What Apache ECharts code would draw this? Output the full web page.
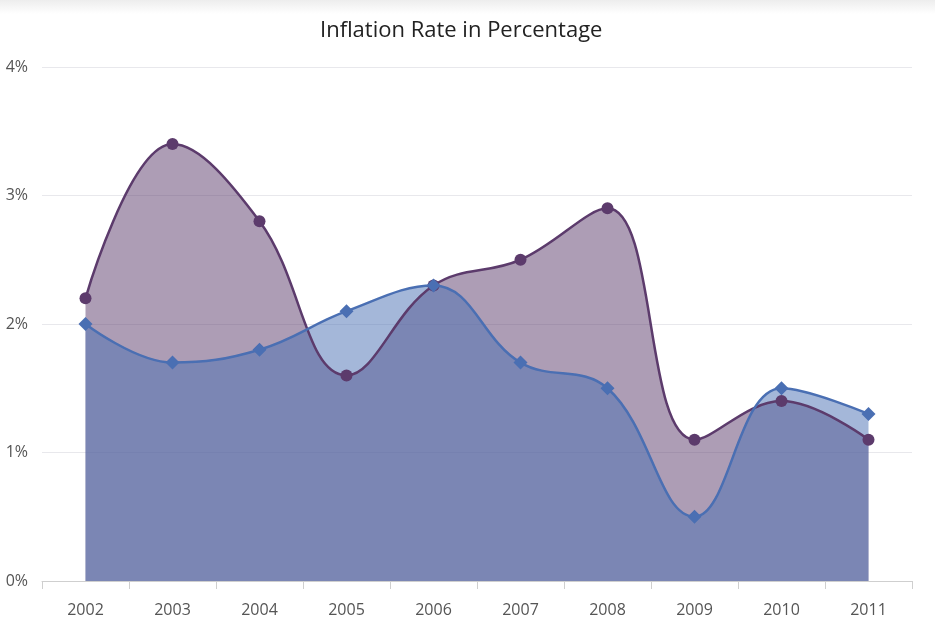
<!DOCTYPE html>
<html>
<head>
<meta charset="utf-8">
<script src="https://cdn.jsdelivr.net/npm/echarts@6/dist/echarts.min.js"></script>
<style>html,body{margin:0;padding:0;background:#fff;}#c{width:935px;height:625px;}</style>
</head>
<body>
<div id="c"></div>
<script>
const categories = ['2002','2003','2004','2005','2006','2007','2008','2009','2010','2011'];
const seriesA = [2.2, 3.4, 2.8, 1.6, 2.3, 2.5, 2.9, 1.1, 1.4, 1.1];
const seriesB = [2.0, 1.7, 1.8, 2.1, 2.3, 1.7, 1.5, 0.5, 1.5, 1.3];
const yTicks = [0, 1, 2, 3, 4];

const chart = echarts.init(document.getElementById('c'));
const font = '"Open Sans", "Noto Sans", sans-serif';
chart.setOption({
  animation: false,
  graphic: [{
    type: 'rect', left: 0, top: 0, z: -1,
    shape: { width: 935, height: 14 },
    style: { fill: new echarts.graphic.LinearGradient(0, 0, 0, 1, [
      { offset: 0, color: '#ededed' }, { offset: 1, color: '#ffffff' }
    ]) }
  }],
  title: {
    text: 'Inflation Rate in Percentage',
    left: 315, top: 15,
    textStyle: { fontFamily: font, fontSize: 22, fontWeight: 'normal', color: '#222' }
  },
  grid: { left: 42, right: 23, top: 67, bottom: 44 },
  xAxis: {
    type: 'category', data: categories, boundaryGap: true,
    axisLine: { lineStyle: { color: '#cfcfcf', width: 1 } },
    axisTick: { show: true, length: 8, lineStyle: { color: '#cfcfcf' } },
    axisLabel: { fontFamily: font, fontSize: 16, color: '#555', margin: 21 }
  },
  yAxis: {
    type: 'value', min: yTicks[0], max: yTicks[yTicks.length - 1], interval: 1,
    axisLine: { show: false }, axisTick: { show: false },
    axisLabel: { fontFamily: font, fontSize: 16, color: '#555', margin: 14, formatter: v => v + '%' },
    splitLine: { lineStyle: { color: '#e8e8ec' } }
  },
  series: [
    {
      type: 'line', data: seriesA, smooth: 0.4,
      symbol: 'circle', symbolSize: 12,
      itemStyle: { color: '#5c3b6c' },
      lineStyle: { color: '#5c3b6c', width: 2.5 },
      areaStyle: { color: '#5c3b6c', opacity: 0.5 }
    },
    {
      type: 'line', data: seriesB, smooth: 0.4,
      symbol: 'diamond', symbolSize: 14,
      itemStyle: { color: '#4a6fb3' },
      lineStyle: { color: '#4a6fb3', width: 2.5 },
      areaStyle: { color: '#4a6fb3', opacity: 0.5 }
    }
  ]
});
</script>
</body>
</html>
